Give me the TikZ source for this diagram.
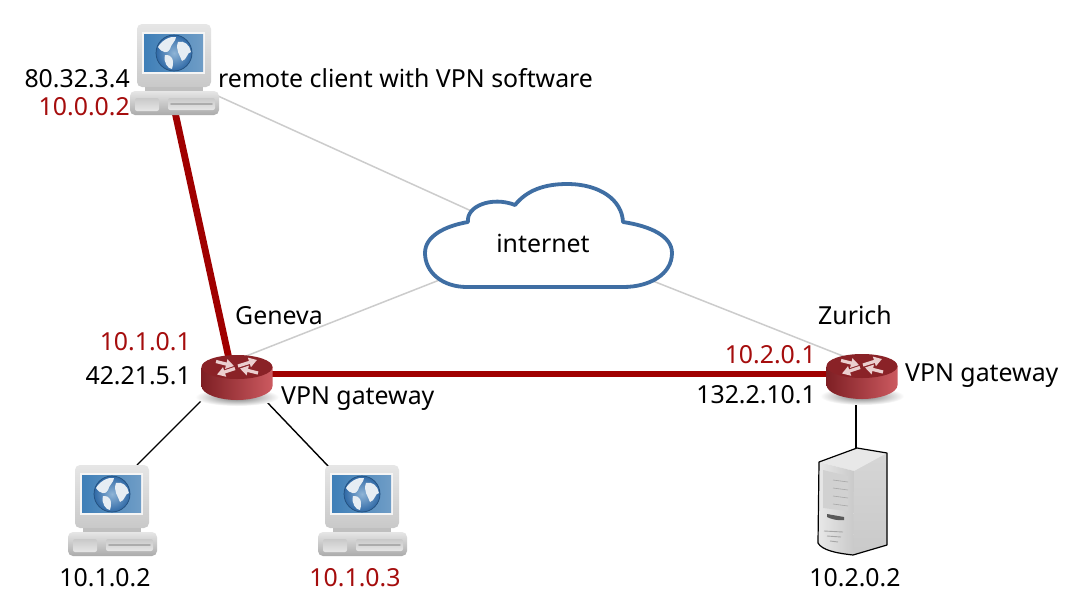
\documentclass[tikz,border=0pt]{standalone}
\usepackage{fontspec}
\setmainfont{Noto Sans}
\usetikzlibrary{arrows.meta}
\definecolor{vpnred}{HTML}{A50D0D}
\definecolor{tunnel}{HTML}{A00000}
\definecolor{cloudblue}{HTML}{3F6EA3}
\definecolor{graylink}{HTML}{CCCCCC}
\definecolor{routertop}{HTML}{8A2227}
\definecolor{routerlight}{HTML}{CC5A60}
\definecolor{routerdark}{HTML}{7E1F24}
\definecolor{routerarrow}{HTML}{EBCFCF}
\definecolor{screenA}{HTML}{3F7FB8}
\definecolor{screenB}{HTML}{6F9DC6}
\definecolor{globeA}{HTML}{8FB4D6}
\definecolor{globeB}{HTML}{2F69A6}
\definecolor{landcol}{HTML}{E6EDF3}
\definecolor{bezelA}{HTML}{E6E6E6}
\definecolor{bezelB}{HTML}{C9C9C9}
\tikzset{
  lbl/.style={inner sep=0pt,font=\fontsize{24.85}{28}\selectfont,text=black},
  lblred/.style={lbl,text=vpnred},
  tunnelline/.style={draw=tunnel,line width=6.8pt},
  wan/.style={draw=graylink,line width=1.5pt},
  lan/.style={draw=black,line width=1.4pt},
  cloudshape/.style={draw=cloudblue,line width=3.8pt,fill=white,line join=round},
  rarrow/.style={draw=routerarrow,line width=3.2pt,-{Triangle[length=8pt,width=9.5pt]}},
}
\newcommand{\pcdev}[2]{%
\begin{scope}[shift={(#1,#2)}]
  % monitor
  \shade[top color=bezelA,bottom color=bezelB,rounded corners=5pt] (137,24) rectangle (211,87);
  \fill[gray!50] (145,87) rectangle (203,92);
  % base
  \shade[top color=bezelA,bottom color=bezelB!85!black,rounded corners=5pt] (130,91) rectangle (219,115);
  \shade[top color=bezelB,bottom color=bezelA,rounded corners=2pt] (135,98) rectangle (159,111);
  \shade[top color=bezelB,bottom color=bezelA,rounded corners=2pt] (168,98) rectangle (215,110);
  \draw[gray!65,line width=1.8pt,line cap=round] (171,104) -- (212,104);
  % screen
  \fill[white!92!gray] (142,32) rectangle (205,74);
  \shade[left color=screenA,right color=screenB] (144,34) rectangle (203,71);
  \shade[shading=radial,inner color=globeA,outer color=globeB] (174,53) circle (18);
  \draw[globeB!75!black,line width=.7pt] (174,53) circle (18);
  \fill[landcol] (158,47) .. controls (162,40) and (170,36) .. (176,37) .. controls (176,41) and (171,44) .. (170,49) .. controls (168,54) and (162,53) .. (158,47) -- cycle;
  \fill[landcol] (165,55) .. controls (171,54) and (175,59) .. (172,69) .. controls (168,69) and (163,62) .. (165,55) -- cycle;
  \fill[landcol] (178,42) .. controls (184,40) and (190,45) .. (191,52) .. controls (187,52) and (187,60) .. (182,61) .. controls (180,55) and (175,50) .. (178,42) -- cycle;
\end{scope}}
\newcommand{\routerdev}[2]{%
\begin{scope}[shift={(#1,#2)}]
  \shade[shading=radial,inner color=black!55,outer color=white] (0,30) ellipse (42 and 9);
  \shade[left color=routerdark,right color=routerlight]
    (-35.5,0) -- (-35.5,19) .. controls (-35.5,27) and (-18,33) .. (0,33)
    .. controls (18,33) and (35.5,27) .. (35.5,19) -- (35.5,0) -- cycle;
  \fill[routertop] (0,0) ellipse (35.5 and 12);
  \draw[rarrow] (-21,-5.5) -- (-3,-1);
  \draw[rarrow] (1,-1) -- (20,-7);
  \draw[rarrow] (-2,1.5) -- (-20,7.5);
  \draw[rarrow] (21,6) -- (3,1.5);
\end{scope}}
\newcommand{\serverdev}{%
  \shade[top color=gray!32,bottom color=gray!42] (857,448) -- (887,453) -- (887,545) -- (853,555) -- (854,471) -- cycle;
  \fill[gray!18] (819,462) -- (857,448) -- (887,453) -- (854,471) -- cycle;
  \shade[left color=gray!18,right color=gray!42] (819,462) -- (854,471) -- (853,555) .. controls (835,553) and (822,550) .. (818,543) -- cycle;
  \draw[black,line width=1.2pt,line join=round]
    (819,462) -- (857,448) -- (887,453) -- (887,545) -- (853,555) .. controls (835,553) and (822,550) .. (818,543) -- cycle;
  \fill[gray!36] (823,470) -- (848,476) -- (848,511) -- (823,508) -- cycle;
  \foreach \y in {480,488,496,504}{\draw[gray!70,line width=.6pt] (833,\y) -- (848,{\y+2});}
  \fill[gray!70!black] (827,514) -- (844,517) -- (844,520) .. controls (838,521) and (831,519) .. (827,517) -- cycle;
  \foreach \a/\b/\y in {824/843/531,827/841/536,830/838/541}{\draw[gray!70,line width=.9pt] (\a,\y) -- (\b,{\y+1});}
}
\begin{document}
\begin{tikzpicture}[x=1pt,y=-1pt]
\useasboundingbox (0,0) rectangle (1088,614);
\fill[white] (0,0) rectangle (1088,614);
% anchor points of the devices
\coordinate (client) at (175,112);
\coordinate (clientwan) at (218,96);
\coordinate (geneva) at (231,368);
\coordinate (genevawan) at (236,360);
\coordinate (genevaright) at (262,374);
\coordinate (genevalanl) at (207,395);
\coordinate (genevalanr) at (265,400);
\coordinate (zurich) at (860,374);
\coordinate (zurichwan) at (858,362);
\coordinate (zurichlan) at (856,400);
\coordinate (pca) at (137,465);
\coordinate (pcb) at (329,467);
\coordinate (srv) at (856,450);
\coordinate (cloudnw) at (500,224);
\coordinate (cloudsw) at (470,268);
\coordinate (cloudse) at (620,268);
% connectors
\draw[wan] (clientwan) -- (cloudnw);
\draw[wan] (genevawan) -- (cloudsw);
\draw[wan] (zurichwan) -- (cloudse);
\draw[lan] (genevalanl) -- (pca);
\draw[lan] (genevalanr) -- (pcb);
\draw[lan] (zurichlan) -- (srv);
\draw[tunnelline] (client) -- (geneva);
\draw[tunnelline] (genevaright) -- (zurich);
% cloud
\path[cloudshape] (468,222)
  .. controls (466,206) and (492,196) .. (515,205)
  .. controls (527,190) and (545,184) .. (567,184)
  .. controls (600,184) and (622,200) .. (623,222)
  .. controls (650,226) and (672,236) .. (672,253)
  .. controls (672,274) and (650,287) .. (623,287)
  -- (467,287)
  .. controls (442,287) and (425,272) .. (425,253)
  .. controls (425,236) and (445,226) .. (468,222) -- cycle;
% devices
\pcdev{0}{0}
\pcdev{-62}{441}
\pcdev{188}{441}
\routerdev{237}{367}
\routerdev{862}{366}
\serverdev
% labels
\node[lbl,anchor=base east] (t1) at (130,87) {80.32.3.4};
\node[lblred,anchor=base east] (t2) at (130,115) {10.0.0.2};
\node[lbl,anchor=base west] (t3) at (218,87) {remote client with VPN software};
\node[lbl,anchor=base] (t4) at (543,252) {internet};
\node[lbl,anchor=base] (t5) at (279,324) {Geneva};
\node[lbl,anchor=base] (t6) at (855,324) {Zurich};
\node[lblred,anchor=base east] (t7) at (191,350) {10.1.0.1};
\node[lbl,anchor=base east] (t8) at (191,384) {42.21.5.1};
\node[lbl,anchor=base west] (t9) at (281,404) {VPN gateway};
\node[lblred,anchor=base east] (t10) at (816,363) {10.2.0.1};
\node[lbl,anchor=base east] (t11) at (816,403) {132.2.10.1};
\node[lbl,anchor=base west] (t12) at (905,381) {VPN gateway};
\node[lbl,anchor=base] (t13) at (105,586) {10.1.0.2};
\node[lblred,anchor=base] (t14) at (355,586) {10.1.0.3};
\node[lbl,anchor=base] (t15) at (855,586) {10.2.0.2};
\end{tikzpicture}
\end{document}
